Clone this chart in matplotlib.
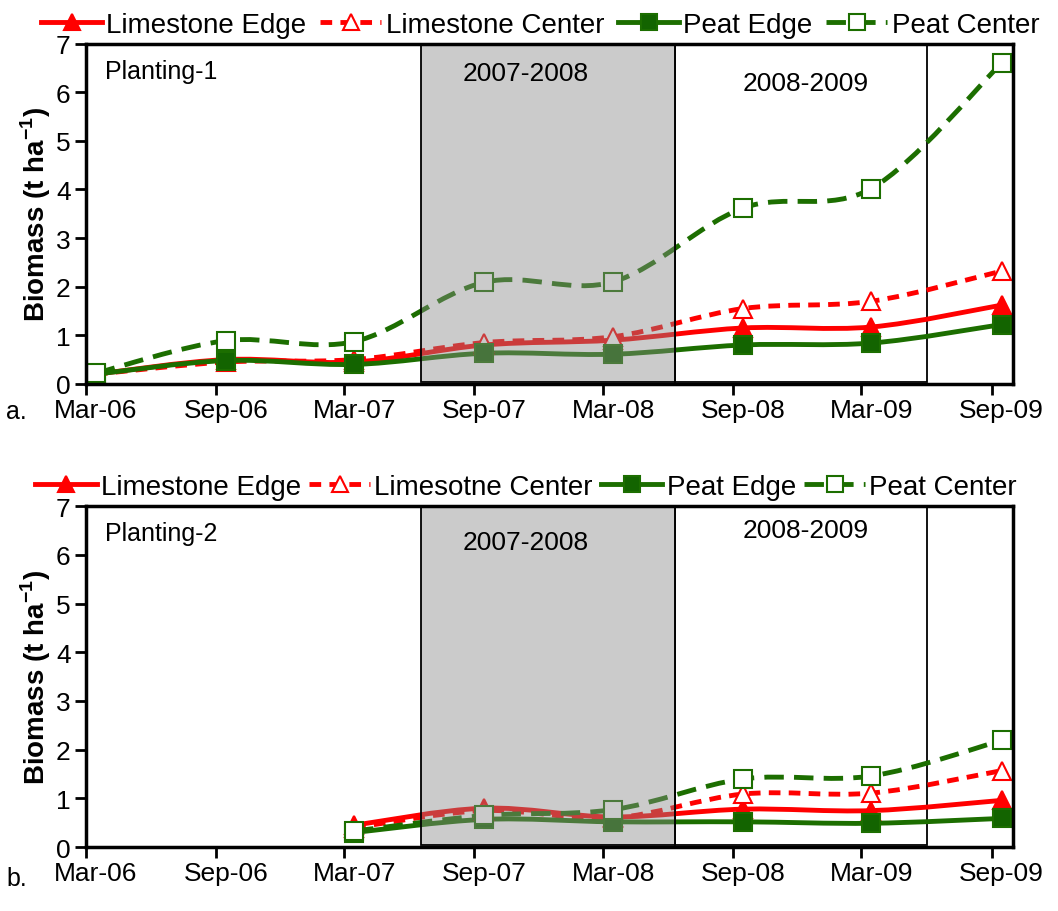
import numpy as np
import pandas as pd
import matplotlib
matplotlib.use('Agg')
import matplotlib.pyplot as plt
import matplotlib.dates as mdates
from matplotlib.path import Path
from matplotlib.patches import PathPatch, Rectangle
from matplotlib.lines import Line2D

plt.rcParams['font.family'] = ['Liberation Sans', 'DejaVu Sans']

# sampling dates (mid-month) and biomass in t/ha
dates_1 = ['2006-03-15', '2006-09-15', '2007-03-15', '2007-09-15',
           '2008-03-15', '2008-09-15', '2009-03-15', '2009-09-15']
dates_2 = dates_1[2:]
tick_labels = ['Mar-06', 'Sep-06', 'Mar-07', 'Sep-07',
               'Mar-08', 'Sep-08', 'Mar-09', 'Sep-09']

lime_edge_1 = [0.20, 0.50, 0.45, 0.80, 0.90, 1.15, 1.17, 1.62]
lime_center_1 = [0.20, 0.45, 0.50, 0.85, 0.97, 1.55, 1.70, 2.32]
peat_edge_1 = [0.20, 0.48, 0.40, 0.63, 0.61, 0.80, 0.84, 1.22]
peat_center_1 = [0.22, 0.89, 0.87, 2.09, 2.10, 3.62, 4.02, 6.60]

lime_edge_2 = [0.45, 0.80, 0.62, 0.78, 0.75, 0.96]
lime_center_2 = [0.40, 0.75, 0.60, 1.09, 1.11, 1.57]
peat_edge_2 = [0.30, 0.57, 0.52, 0.52, 0.49, 0.59]
peat_center_2 = [0.33, 0.65, 0.77, 1.40, 1.46, 2.19]

names_1 = ['Limestone Edge', 'Limestone Center', 'Peat Edge', 'Peat Center']
names_2 = ['Limestone Edge', 'Limesotne Center', 'Peat Edge', 'Peat Center']

season_1 = ('2007-06-17', '2008-06-10', '2007-2008')
season_2 = ('2008-06-10', '2009-06-01', '2008-2009')

RED = '#ff0000'
GREEN = '#1c6e00'
styles = [
    dict(color=RED, marker='^', mfc=RED, dashes=None),
    dict(color=RED, marker='^', mfc='white', dashes=(2.4, 1.7)),
    dict(color=GREEN, marker='s', mfc='#136400', dashes=None),
    dict(color=GREEN, marker='s', mfc='white', dashes=(4.0, 2.1)),
]
LW = 3.5


def smooth_path(x, y):
    # bezier segments with catmull-rom style control points (tension 1/6)
    pts = np.column_stack([x, y])
    n = len(pts)
    verts = [pts[0]]
    codes = [Path.MOVETO]
    for i in range(n - 1):
        p_prev = pts[i - 1] if i > 0 else pts[i]
        p_next = pts[i + 2] if i + 2 < n else pts[i + 1]
        c1 = pts[i] + (pts[i + 1] - p_prev) / 6.0
        c2 = pts[i + 1] - (p_next - pts[i]) / 6.0
        verts += [c1, c2, pts[i + 1]]
        codes += [Path.CURVE4] * 3
    return Path(verts, codes)


def draw_panel(ax, dates, series, names, title, legend_kw):
    x = mdates.date2num(pd.to_datetime(dates))
    for vals, st in zip(series, styles):
        patch = PathPatch(smooth_path(x, np.array(vals)), fill=False,
                          edgecolor=st['color'], lw=LW, zorder=3,
                          capstyle='butt')
        if st['dashes'] is not None:
            patch.set_linestyle((0, st['dashes']))
        ax.add_patch(patch)
        ax.plot(x, vals, linestyle='none', marker=st['marker'], ms=13,
                mfc=st['mfc'], mec=st['color'], mew=1.5, zorder=4)

    # season boxes
    g0, g1 = mdates.date2num(pd.to_datetime(list(season_1[:2])))
    ax.add_patch(Rectangle((g0, 0.04), g1 - g0, 6.96, facecolor='#8a8a8a',
                           alpha=0.44, edgecolor='none', zorder=5))
    ax.add_patch(Rectangle((g0, 0.04), g1 - g0, 6.96, facecolor='none',
                           edgecolor='black', lw=1.3, zorder=5))
    w0, w1 = mdates.date2num(pd.to_datetime(list(season_2[:2])))
    ax.add_patch(Rectangle((w0, 0.04), w1 - w0, 6.96, facecolor='none',
                           edgecolor='black', lw=1.3, zorder=2))

    ax.set_xlim(mdates.date2num(pd.Timestamp('2006-03-01')),
                mdates.date2num(pd.Timestamp('2009-10-01')))
    ax.set_ylim(0, 7)
    ax.set_yticks(range(8))

    major = pd.date_range('2006-03-01', '2009-09-01', freq='6MS')
    ax.set_xticks(mdates.date2num(major))
    ax.set_xticklabels([])
    ax.set_xticks(mdates.date2num(pd.to_datetime(dates_1)), minor=True)
    ax.set_xticklabels(tick_labels, minor=True)
    ax.tick_params(axis='x', which='major', direction='out', length=8,
                   width=2)
    ax.tick_params(axis='x', which='minor', length=0, pad=10, labelsize=19)
    ax.tick_params(axis='y', direction='out', length=8, width=2,
                   labelsize=19, pad=3)
    for sp in ax.spines.values():
        sp.set_linewidth(2.5)
        sp.set_zorder(6)

    ax.set_ylabel('Biomass (t ha$^{\\mathregular{-1}}$)', fontsize=20,
                  fontweight='bold', labelpad=2)
    ax.text(0.02, 0.955, title, transform=ax.transAxes, fontsize=18,
            va='top', ha='left', zorder=7)

    handles = []
    for st in styles:
        h = Line2D([], [], color=st['color'], lw=LW, marker=st['marker'],
                   ms=11, mfc=st['mfc'], mec=st['color'], mew=1.5)
        if st['dashes'] is not None:
            h.set_dashes(st['dashes'])
        handles.append(h)
    ax.legend(handles, names, loc='lower center', ncol=4, frameon=False,
              handlelength=2.2, handletextpad=0.15, borderaxespad=0,
              **legend_kw)


fig = plt.figure(figsize=(10.58, 9.12), dpi=100)
ax1 = fig.add_axes([0.0813, 0.578, 0.876, 0.373])
ax2 = fig.add_axes([0.0813, 0.070, 0.876, 0.374])

draw_panel(ax1, dates_1, [lime_edge_1, lime_center_1, peat_edge_1, peat_center_1],
           names_1, 'Planting-1',
           dict(bbox_to_anchor=(0.49, 0.985), fontsize=20, columnspacing=0.5))
draw_panel(ax2, dates_2, [lime_edge_2, lime_center_2, peat_edge_2, peat_center_2],
           names_2, 'Planting-2',
           dict(bbox_to_anchor=(0.475, 0.985), fontsize=20, columnspacing=0.3))

ax1.text(0.474, 0.95, season_1[2], transform=ax1.transAxes, fontsize=19,
         ha='center', va='top', zorder=7)
ax1.text(0.776, 0.92, season_2[2], transform=ax1.transAxes, fontsize=19,
         ha='center', va='top', zorder=7)
ax2.text(0.474, 0.93, season_1[2], transform=ax2.transAxes, fontsize=19,
         ha='center', va='top', zorder=7)
ax2.text(0.776, 0.965, season_2[2], transform=ax2.transAxes, fontsize=19,
         ha='center', va='top', zorder=7)

fig.text(0.006, 0.548, 'a.', fontsize=18, va='center')
fig.text(0.006, 0.036, 'b.', fontsize=18, va='center')

fig.savefig('out.png', dpi=100)
